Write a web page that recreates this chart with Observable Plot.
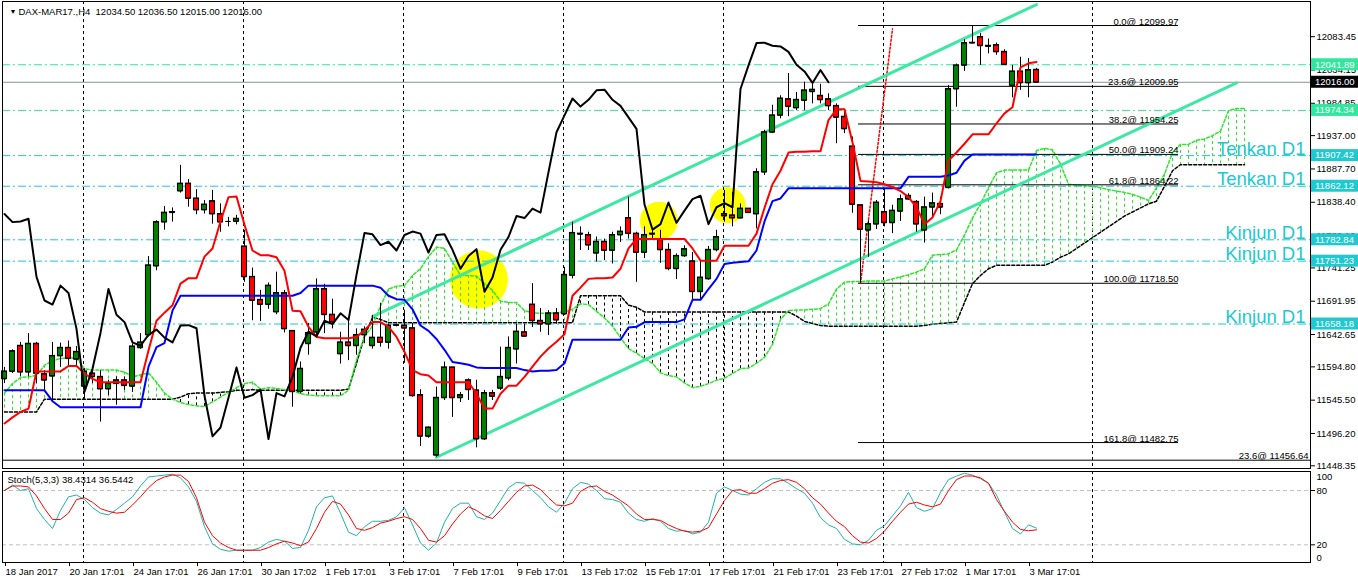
<!DOCTYPE html>
<html><head><meta charset="utf-8">
<script src="https://cdn.jsdelivr.net/npm/d3@7"></script>
<script src="https://cdn.jsdelivr.net/npm/@observablehq/plot@0.6"></script>
<style>
body{margin:0;background:#fff;}
#wrap{position:relative;width:1358px;height:584px;overflow:hidden;background:#fff;}
#main{position:absolute;left:0;top:0;}
#stoch{position:absolute;left:0;top:469px;}
</style></head><body><div id="wrap"><div id="main"></div><div id="stoch"></div></div>
<script>
// ---------- DATA ----------
const opens = [11577,11588,11626,11587,11629,11584,11581,11611,11623,11606,
11566,11585,11580,11562,11570,11575,11566,11623,11642,11744,
11809,11823,11855,11866,11844,11827,11840,11821,11810,11810,
11773,11728,11694,11687,11676,11704,11648,11558,11629,11646,
11710,11672,11614,11631,11626,11642,11626,11638,11631,11656,
11656,11652,11553,11492,11464,11549,11594,11549,11575,11560,
11488,11556,11563,11578,11621,11646,11687,11663,11658,11674,
11673,11730,11792,11790,11763,11780,11767,11790,11815,11792,
11764,11792,11783,11768,11740,11759,11751,11706,11725,11768,
11821,11819,11815,11829,11821,11883,11942,11967,11991,11978,
11989,12002,11996,11991,11981,11965,11921,11834,11797,11806,
11824,11808,11825,11843,11839,11797,11831,11836,11860,12006,
12041,12074,12083,12070,12071,12061,12011,12032,12015,12034.5];
const highs = [11594,11620,11631,11644,11631,11589,11631,11630,11633,11625,
11592,11592,11589,11575,11580,11580,11629,11644,11758,11811,
11832,11830,11893,11872,11857,11841,11856,11836,11816,11819,
11797,11741,11708,11719,11735,11708,11648,11602,11659,11725,
11717,11695,11646,11663,11651,11654,11671,11689,11658,11658,
11678,11659,11561,11506,11565,11602,11594,11557,11577,11575,
11560,11560,11624,11639,11658,11658,11718,11681,11678,11681,
11742,11809,11802,11794,11787,11784,11794,11802,11846,11794,
11802,11797,11797,11777,11762,11774,11764,11752,11773,11797,
11856,11853,11836,11829,11888,11945,11982,11996,12029,12001,
12016,12016,12013,11999,11984,11974,11935,11834,11811,11841,
11858,11834,11849,11851,11841,11846,11852,11846,12011,12043,
12079,12099.97,12088,12080,12074,12064,12041,12053,12051,12036.5];
const lows = [11570,11585,11580,11580,11570,11560,11545,11594,11594,11594,
11547,11570,11513,11552,11538,11560,11557,11621,11639,11737,
11797,11809,11852,11831,11820,11821,11806,11794,11802,11805,
11720,11663,11662,11680,11672,11645,11535,11555,11612,11641,
11644,11651,11599,11604,11612,11629,11621,11624,11621,11654,
11600,11550,11477,11489,11461,11545,11520,11542,11545,11475,
11486,11545,11560,11574,11599,11639,11653,11646,11641,11658,
11671,11725,11767,11767,11750,11752,11747,11779,11784,11720,
11755,11782,11748,11737,11724,11757,11694,11694,11723,11765,
11809,11802,11814,11822,11799,11878,11940,11962,11965,11974,
11974,11984,11984,11974,11925,11940,11822,11718.5,11757,11798,
11802,11792,11810,11841,11794,11778,11816,11820,11858,11979,
12032,12073,12041,12058,12056,12041,11993,12004,11993,12015];
const closes = [11588,11618,11587,11629,11585,11575,11611,11623,11607,11617,
11588,11580,11562,11570,11575,11567,11625,11631,11745,11809,
11823,11824,11866,11844,11827,11835,11821,11809,11810,11814,
11728,11693,11687,11715,11704,11651,11558,11592,11645,11710,
11672,11661,11631,11626,11642,11650,11638,11631,11656,11656.5,
11652,11552,11492,11505,11549,11594,11549,11553,11561,11488,
11556,11551,11580,11623,11647,11640,11663,11658,11674,11664,
11731,11793,11791,11775,11780,11767,11790,11795,11792,11764,
11790,11791,11768,11740,11759,11769,11706,11727,11768,11787,
11818,11815,11829,11823,11883,11942,11967,11992,11980,11990,
12004,12005,11990,11981,11964,11947,11835,11798,11806,11838,
11808,11826,11843,11848,11806,11831,11837,11831,12006,12041,
12074,12074.5,12070,12069,12061,12042,12032,12015,12034,12016];

const tenkan = [11511,11520,11528,11533,11588,11588,11588,11588,11596,11596,
11585,11577,11572,11572,11572,11572,11572,11572,11619,11663,
11675,11686,11718,11726,11726,11758,11770,11810,11846,11847,
11805,11767,11760,11760,11757,11737,11678,11677,11654,11639,
11637,11637,11637,11637,11639,11649,11661,11661,11654,11639,
11617,11590,11584,11582,11572,11572,11572,11572,11572,11555,
11533,11533,11555,11567,11567,11580,11595,11610,11622,11632,
11643,11700,11712,11725,11726,11726,11727,11740,11770,11784,
11784,11784,11784,11784,11784,11784,11770,11752,11752,11752,
11774,11774,11774,11774,11792,11830,11865,11885,11912,11913,
11913,11914,11914,11960,11976,11976,11927,11870,11869,11868,
11865,11861,11855,11846,11831,11806,11816,11840,11900,11912,
11925,11939,11939,11939,11955,11970,11979,12038,12044,12046];
const kijun = [11560,11560,11560,11560,11560,11560,11544,11535,11535,11535,
11535,11535,11535,11535,11535,11535,11535,11535,11595,11624,
11630,11678,11700,11700,11700,11700,11700,11700,11700,11700,
11700,11700,11700,11700,11700,11700,11700,11704,11715,11715,
11715,11715,11715,11715,11715,11715,11715,11712,11700,11695,
11694,11680,11656,11648,11636,11620,11602,11600,11598,11594,
11593,11593,11593,11593,11593,11590,11588,11589,11589,11590,
11600,11635,11635,11635,11635,11635,11635,11635,11653,11654,
11661,11661,11661,11661,11661,11665,11694,11694,11710,11725,
11747,11749,11750,11751,11767,11810,11840,11844,11859,11859,
11859,11859,11859,11859,11859,11859,11859,11859,11859,11859,
11859,11859,11859,11876,11876,11876,11876,11876,11878,11882,
11900,11909,11909,11909,11909,11909,11909,11909,11909,11909];
const spanA = [11556,11570,11579,11580,11582,11597,11604,11607,11608,11608,
11592,11590,11590,11590,11590,11587,11580,11583,11586,11572,
11556,11547,11542,11539,11537,11536,11543,11550,11557,11564,
11570,11572,11562,11564,11563,11561,11560,11555,11553,11552,
11552,11552,11552,11560,11605,11640,11655,11685,11710,11714,
11715,11730,11740,11758,11772,11770,11750,11730,11730,11729,
11718,11708,11692,11690,11690,11678,11675,11674,11674,11675,
11676,11680,11688,11687,11677,11667,11655,11638,11622,11615,
11607,11600,11586,11582,11580,11571,11564,11566,11570,11575,
11578,11585,11592,11593,11600,11609,11628,11665,11678,11679,
11679,11680,11681,11688,11710,11720,11721,11721,11722,11722,
11722,11725,11728,11731,11735,11740,11760,11761,11762,11768,
11790,11815,11836,11860,11882,11886,11886,11886,11886,11915,
11918,11916,11895,11865,11864,11863,11862,11860,11857,11855,
11853,11850,11846,11841,11860,11880,11912,11924,11924,11930,
11932,11937,11944,11974,11977,11977];
const spanB = [11528,11528,11528,11528,11528,11547,11547,11547,11547,11547,
11547,11547,11547,11547,11547,11547,11547,11547,11547,11547,
11547,11547,11550,11555,11556,11556,11556,11557,11558,11560,
11560,11561,11560,11560,11560,11560,11560,11560,11560,11560,
11560,11560,11560,11562,11600,11640,11668,11665,11660,11660,
11660,11660,11660,11660,11660,11660,11660,11660,11660,11660,
11660,11660,11660,11660,11660,11660,11660,11660,11660,11660,
11660,11660,11700,11700,11700,11700,11700,11700,11686,11683,
11676,11676,11676,11676,11676,11676,11676,11676,11676,11676,
11676,11676,11676,11676,11676,11676,11676,11676,11676,11670,
11662,11659,11656,11655,11655,11655,11655,11655,11655,11655,
11655,11655,11655,11655,11655,11656,11658,11659,11660,11661,
11690,11718,11730,11740,11745,11745,11745,11745,11745,11745,
11745,11750,11757,11762,11770,11778,11786,11794,11802,11810,
11818,11824,11830,11836,11840,11862,11885,11894,11894,11894,
11894,11894,11894,11894,11894,11894];
const stochK = [80,86,80,82,60,48,38,58,73,75,
70,61,55,53,59,66,73,85,95,96,
97,98,94,84,68,40,21,15,13,14,
14,14,17,23,26,24,16,17,36,62,
72,74,55,34,30,40,46,46,47,51,
61,42,22,14,22,45,60,66,66,51,
48,55,69,83,89,88,80,72,62,56,
66,82,89,87,80,71,70,67,55,48,
46,49,46,38,35,36,32,34,45,77,
84,80,76,75,82,89,93,93,88,82,
77,66,50,42,38,26,21,20,25,36,
41,52,63,78,61,57,60,78,92,96,
99,97,93,88,75,56,38,32,42,38.4314];
const stochD = [80,85,85,84,74,60,48,48,55,70,
72,67,60,57,55,56,64,73,83,91,
95,97,97,90,72,45,30,22,17,14,
14,14,14,17,21,24,22,19,23,38,
56,68,65,53,38,36,39,44,46,49,
51,48,38,25,23,30,43,54,62,58,
52,49,58,68,78,85,86,81,72,64,
63,66,79,84,85,79,75,69,63,54,
48,48,47,42,38,35,34,35,39,54,
69,80,81,77,77,82,88,91,92,89,
82,72,65,55,46,40,30,23,22,27,
35,46,56,65,67,64,62,65,80,92,
96,96,94,88,70,57,45,37,35.5,36.5442];

const priceTicks = [12083.45,12034.15,11984.85,11937.00,11887.70,11838.40,11789.10,11741.25,11691.95,11642.65,11594.80,11545.50,11496.20,11448.35];
const xLabelBars = [0,8,16,24,32,40,48,56,64,72,80,88,96,104,112,120,128];
const xLabels = ["18 Jan 2017","20 Jan 17:01","24 Jan 17:01","26 Jan 17:01","30 Jan 17:02","1 Feb 17:01","3 Feb 17:01","7 Feb 17:01","9 Feb 17:01","13 Feb 17:02","15 Feb 17:01","17 Feb 17:01","21 Feb 17:01","23 Feb 17:01","27 Feb 17:02","1 Mar 17:01","3 Mar 17:01"];
const gridBars = [9.875,29.875,49.875,69.875,89.875,109.875,136];

const greenLevels = [12041.89, 11974.34];
const cyanLevels = [11907.42, 11862.12, 11782.84, 11751.23, 11658.18];
const cyanNames = ["Tenkan D1","Tenkan D1","Kinjun D1","Kinjun D1","Kinjun D1"];
const lastPrice = 12016.00;

const fibLevels = [0.0, 23.6, 38.2, 50.0, 61.8, 100.0, 161.8];
const fibPrices = [12099.97, 12009.95, 11954.25, 11909.24, 11864.22, 11718.50, 11482.75];
const fibFromBar = 106.75, fibToBar = 146.75;
const fibTrendBars = [107, 111], fibTrendPrices = [11718.5, 12095];
const fib2Level = 23.6, fib2Price = 11456.64;

const upperChannelBars = [46, 129], upperChannelPrices = [11669, 12131];
const lowerChannelBars = [54, 154], lowerChannelPrices = [11461, 12015];

const circleBars = [59.3, 81.8, 90.4], circlePrices = [11724, 11811, 11834], circleRadii = [29, 19, 18];

// ---------- BUILD ----------
const FONT = "'Liberation Sans', Arial, sans-serif";
const MINT = "#2fe79d", CYAN = "#20c8cf", LIME = "#2ee62e";
const xCfg = {type: "linear", domain: [0, 129], range: [4, 1036], axis: null};

const bars = opens.map((o, i) => ({i, o, h: highs[i], l: lows[i], c: closes[i]}));
const upBars = bars.filter(d => d.c >= d.o), dnBars = bars.filter(d => d.c < d.o);
const cloud = spanA.map((a, i) => ({i, a, b: spanB[i]}));
const ten = tenkan.map((v, i) => ({i, v}));
const kij = kijun.map((v, i) => ({i, v}));
const chikou = closes.slice(26).map((v, k) => ({i: k, v}));
const fib = fibLevels.map((l, k) => ({l, p: fibPrices[k]}));
const fibTrend = fibTrendBars.map((b, k) => ({i: b, p: fibTrendPrices[k]}));
const upperCh = upperChannelBars.map((b, k) => ({i: b, p: upperChannelPrices[k]}));
const lowerCh = lowerChannelBars.map((b, k) => ({i: b, p: lowerChannelPrices[k]}));
const circles = circleBars.map((b, k) => ({i: b, p: circlePrices[k], r: circleRadii[k]}));
const cyanLines = cyanLevels.map((p, k) => ({p, name: cyanNames[k]}));
const BW = 0.32;

const mainEl = Plot.plot({
  width: 1358, height: 470,
  marginLeft: 2, marginRight: 48, marginTop: 1, marginBottom: 2,
  x: xCfg,
  y: {type: "linear", domain: [11444.36, 12137], range: [468, 0], axis: null},
  r: {type: "identity"},
  style: {fontFamily: FONT, fontSize: "9.5px", background: "#fff", color: "#000"},
  marks: [
    Plot.dot(circles, {x: "i", y: "p", r: "r", fill: "#ffff00"}),
    Plot.ruleX(gridBars, {stroke: "#000", strokeDasharray: "3,3"}),
    Plot.ruleX(cloud.filter(d => d.a >= d.b), {x: "i", y1: "a", y2: "b", stroke: LIME, strokeDasharray: "3,3"}),
    Plot.ruleX(cloud.filter(d => d.a < d.b), {x: "i", y1: "a", y2: "b", stroke: "#000", strokeDasharray: "3,3"}),
    Plot.line(cloud, {x: "i", y: "b", stroke: "#000", strokeDasharray: "3,2"}),
    Plot.line(cloud, {x: "i", y: "a", stroke: LIME, strokeDasharray: "3,2"}),
    Plot.ruleY(greenLevels, {stroke: MINT, strokeDasharray: "8,3,2,3"}),
    Plot.ruleY(cyanLevels, {stroke: CYAN, strokeDasharray: "8,3,2,3"}),
    Plot.ruleY([lastPrice], {stroke: "#8a9096"}),
    Plot.ruleY([fib2Price], {stroke: "#000"}),
    Plot.ruleY(fib, {y: "p", x1: fibFromBar, x2: fibToBar, stroke: "#000"}),
    Plot.line(fibTrend, {x: "i", y: "p", stroke: "#ff0000", strokeDasharray: "2,2"}),
    Plot.line(upperCh, {x: "i", y: "p", stroke: "#3de8a2", strokeWidth: 3}),
    Plot.line(lowerCh, {x: "i", y: "p", stroke: "#3de8a2", strokeWidth: 3}),
    Plot.ruleX(bars, {x: "i", y1: "l", y2: "h", stroke: "#000"}),
    Plot.rect(upBars, {x1: d => d.i - BW, x2: d => d.i + BW, y1: "o", y2: "c", fill: "#008000", stroke: "#000"}),
    Plot.rect(dnBars, {x1: d => d.i - BW, x2: d => d.i + BW, y1: "o", y2: "c", fill: "#ff0000", stroke: "#000"}),
    Plot.ruleY(bars, {y: "o", x1: d => d.i - BW, x2: d => d.i + BW, stroke: "#000"}),
    Plot.ruleY(bars, {y: "c", x1: d => d.i - BW, x2: d => d.i + BW, stroke: "#000"}),
    Plot.line(kij, {x: "i", y: "v", stroke: "#0000ff", strokeWidth: 2}),
    Plot.line(ten, {x: "i", y: "v", stroke: "#ff0000", strokeWidth: 2}),
    Plot.line(chikou, {x: "i", y: "v", stroke: "#000", strokeWidth: 2}),
    Plot.text(fib, {x: fibToBar, y: "p", text: d => `${d.l.toFixed(1)}@ ${d.p.toFixed(2)}`, textAnchor: "end", lineAnchor: "bottom", dy: -1, fontSize: 9.5}),
    Plot.text([fib2Price], {y: d => d, text: d => `${fib2Level.toFixed(1)}@ ${d.toFixed(2)}`, frameAnchor: "right", textAnchor: "end", lineAnchor: "bottom", dx: -2, dy: -1, fontSize: 9.5}),
    Plot.text(cyanLines, {y: "p", text: "name", frameAnchor: "right", textAnchor: "end", lineAnchor: "bottom", dx: -5, dy: -1, fontSize: 18.5, fill: CYAN}),
    Plot.text(["DAX-MAR17.,H4\u00a0\u00a012034.50 12036.50 12015.00 12016.00"], {frameAnchor: "top-left", dx: 16, dy: 10, lineAnchor: "middle", textAnchor: "start", fontSize: 9.5}),
    Plot.text(["\u25BC"], {frameAnchor: "top-left", dx: 7, dy: 10, lineAnchor: "middle", fontSize: 7}),
    Plot.frame({stroke: "#000"}),
    Plot.axisY(priceTicks, {anchor: "right", label: null, tickSize: 4, tickPadding: 2, tickFormat: d => d.toFixed(2), fontSize: 9.5})
  ]
});
document.getElementById("main").appendChild(mainEl);

// coloured price tags on the right axis, placed through Plot's y scale
const axisTags = [
  {p: greenLevels[0], bg: MINT}, {p: lastPrice, bg: "#000"}, {p: greenLevels[1], bg: MINT},
  ...cyanLevels.map(p => ({p, bg: CYAN}))
];
const yS = mainEl.scale("y");
const tagG = d3.select(mainEl).append("g").attr("text-anchor", "start");
axisTags.forEach(t => {
  const yy = yS.apply(t.p);
  tagG.append("rect").attr("x", 1311).attr("y", yy - 6).attr("width", 47).attr("height", 12).attr("fill", t.bg);
  tagG.append("text").attr("x", 1315).attr("y", yy).attr("dy", "0.35em").attr("fill", "#fff")
    .attr("text-anchor", "start").attr("font-size", "9.5px").attr("font-family", FONT).text(t.p.toFixed(2));
});

const kData = stochK.map((v, i) => ({i, v}));
const dData = stochD.map((v, i) => ({i, v}));
const stochEl = Plot.plot({
  width: 1358, height: 115,
  marginLeft: 2, marginRight: 48, marginTop: 2, marginBottom: 22,
  x: xCfg,
  y: {type: "linear", domain: [0, 100], range: [93.4, 2.9], axis: null},
  style: {fontFamily: FONT, fontSize: "9.5px", background: "#fff", color: "#000"},
  marks: [
    Plot.ruleY([20, 80], {stroke: "#c0c0c0", strokeDasharray: "4,3"}),
    Plot.ruleX(gridBars, {stroke: "#000", strokeDasharray: "3,3"}),
    Plot.line(kData, {x: "i", y: "v", stroke: "#20b2aa", strokeWidth: 1}),
    Plot.line(dData, {x: "i", y: "v", stroke: "#ff0000", strokeWidth: 1}),
    Plot.text([`Stoch(5,3,3) ${stochK[stochK.length-1].toFixed(4)} ${stochD[stochD.length-1].toFixed(4)}`], {frameAnchor: "top-left", dx: 5, dy: 8, lineAnchor: "middle", textAnchor: "start", fontSize: 9.5}),
    Plot.frame({stroke: "#000"}),
    Plot.axisY([20, 80], {anchor: "right", label: null, tickSize: 4, tickPadding: 2, fontSize: 9.5}),
    Plot.axisY([100], {anchor: "right", label: null, tickSize: 0, tickPadding: 6, dy: 5, fontSize: 9.5}),
    Plot.axisY([0], {anchor: "right", label: null, tickSize: 0, tickPadding: 6, dy: -5, fontSize: 9.5}),
    Plot.axisX(xLabelBars, {anchor: "bottom", label: null, tickSize: 4, tickPadding: 2, textAnchor: "start", dx: 1, fontSize: 9.5, tickFormat: d => xLabels[xLabelBars.indexOf(d)]})
  ]
});
document.getElementById("stoch").appendChild(stochEl);
</script>
</body></html>
